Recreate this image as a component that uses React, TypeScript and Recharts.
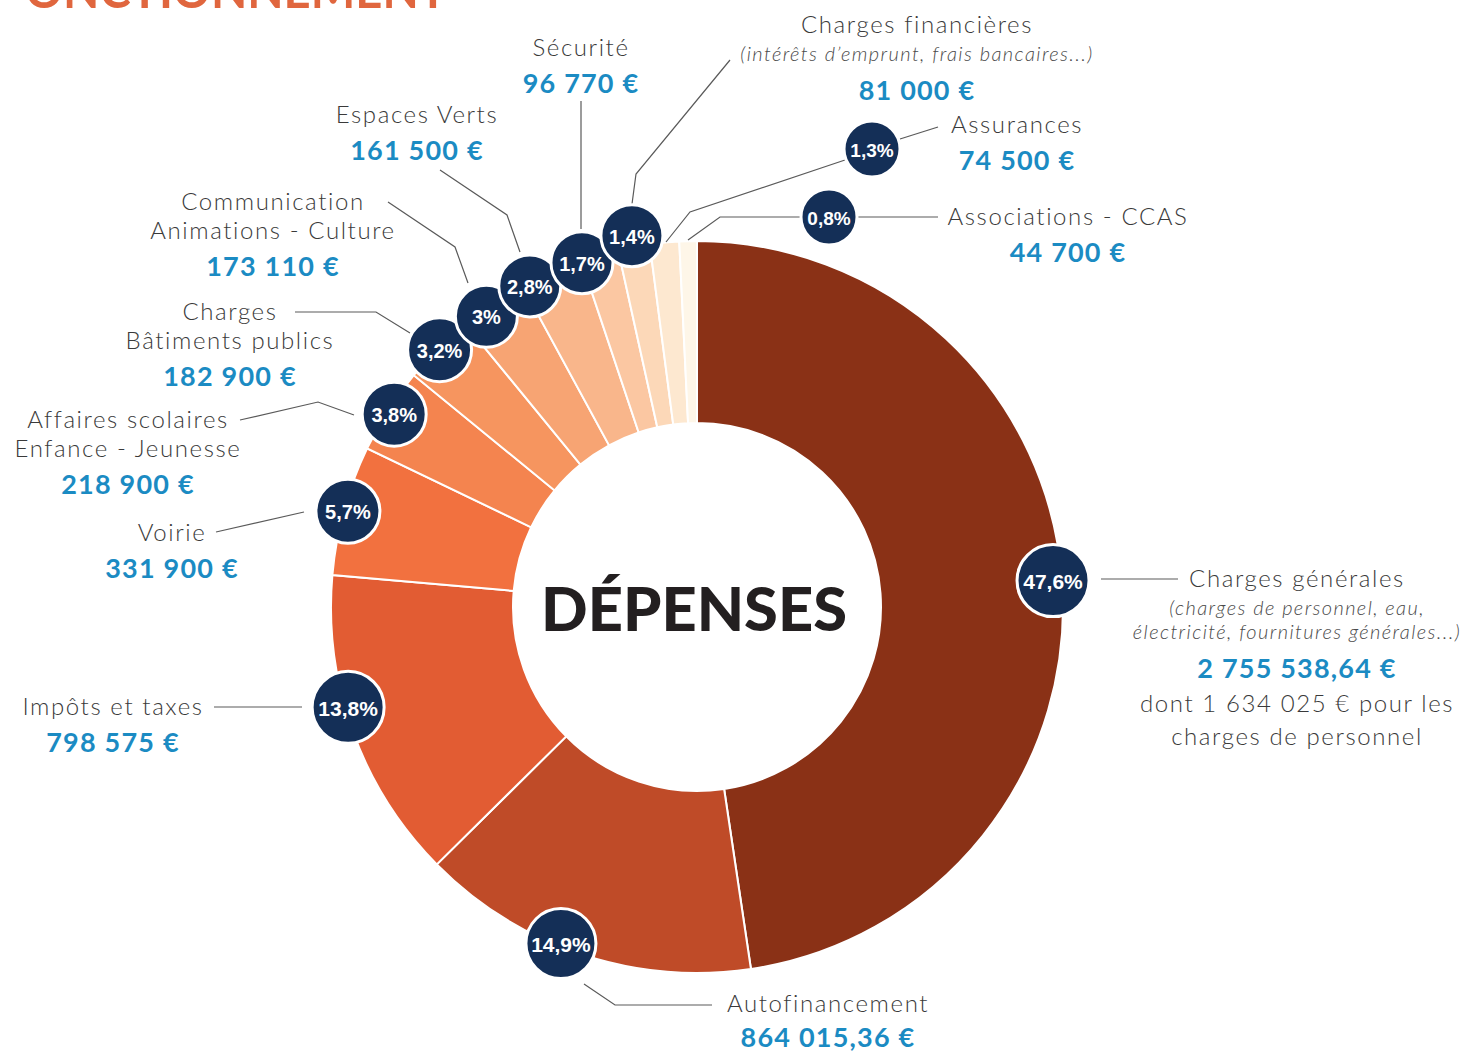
import React from 'react';
import { PieChart, Pie, Cell } from 'recharts';

// Budget - dépenses de fonctionnement
const categories = [
	'Charges générales',
	'Autofinancement',
	'Impôts et taxes',
	'Voirie',
	'Affaires scolaires\nEnfance - Jeunesse',
	'Charges\nBâtiments publics',
	'Communication\nAnimations - Culture',
	'Espaces Verts',
	'Sécurité',
	'Charges financières',
	'Assurances',
	'Associations - CCAS',
];
const amounts = [
	2755538.64, 864015.36, 798575, 331900, 218900, 182900, 173110, 161500, 96770, 81000, 74500, 44700,
];
const notes = [
	'(charges de personnel, eau,\nélectricité, fournitures générales...)',
	'', '', '', '', '', '', '', '',
	'(intérêts d’emprunt, frais bancaires...)',
	'', '',
];
const extras = ['dont 1 634 025 € pour les\ncharges de personnel', '', '', '', '', '', '', '', '', '', '', ''];
const sliceColors = [
	'#8a3116', '#bf4b28', '#e25c33', '#f2713f', '#f4844f', '#f6955f',
	'#f7a473', '#f9b68b', '#fbc7a2', '#fcd8b8', '#fde8d0', '#fef6e8',
];

const data = categories.map((name, i) => ({ name, value: amounts[i] }));

// callout layout: badge angle tweak / radius, leader lines, text block anchor
const callouts: any[] = [
	{ dA: 0, r: 357, br: 36, fs: 21, lines: [[[1101, 579], [1178, 579]]], x: 1297, y: 577 },
	{ dA: -3.6, r: 363, br: 35, fs: 21, lines: [[[584, 984], [615, 1005], [712, 1005]]], x: 828, y: 1002 },
	{ dA: -3.8, r: 363, br: 36, fs: 21, lines: [[[214, 707], [302, 707]]], x: 113, y: 705 },
	{ dA: 0, r: 362, br: 32, fs: 20, lines: [[[304, 512], [216, 532]]], x: 172, y: 531 },
	{ dA: 0, r: 359, br: 32, fs: 20, lines: [[[354, 415], [318, 402], [240, 420]]], x: 128, y: 418 },
	{ dA: 0, r: 364, br: 32, fs: 20, lines: [[[410, 333], [376, 312], [295, 312]]], x: 230, y: 310 },
	{ dA: 2, r: 359, br: 31, fs: 20, lines: [[[468, 283], [455, 247], [388, 202]]], x: 273, y: 200 },
	{ dA: 4, r: 362, br: 31, fs: 20, lines: [[[520, 252], [507, 215], [440, 170]]], x: 417, y: 113 },
	{ dA: 3, r: 363, br: 31, fs: 20, lines: [[[581, 229], [581, 101]]], x: 581, y: 46 },
	{ dA: 0, r: 377, br: 31, fs: 20, lines: [[[632, 204], [636, 174], [730, 60]]], x: 917, y: 23 },
	{ at: [872, 149], br: 28, fs: 19, lines: [[[666, 242], [690, 212], [845, 160]], [[900, 139], [938, 127]]], x: 1017, y: 123 },
	{ at: [829, 217], br: 28, fs: 19, lines: [[[688, 240], [720, 217], [802, 217]], [[858, 217], [938, 217]]], x: 1068, y: 215 },
];

const RAD = Math.PI / 180;
const fmtEuro = (v: number) => {
	const [int, dec] = v.toFixed(2).split('.');
	const grouped = int.replace(/\B(?=(\d{3})+(?!\d))/g, ' ');
	return (dec === '00' ? grouped : grouped + ',' + dec) + ' €';
};
const fmtPct = (p: number) => (p * 100).toFixed(1).replace(/\.0$/, '').replace('.', ',') + '%';

const nameFont = { fontFamily: 'Lato', fontWeight: 300, fontSize: 24, letterSpacing: 1.6, fill: '#3a3a3a' };
const noteFont = { fontFamily: 'Lato', fontWeight: 300, fontStyle: 'italic', fontSize: 20, letterSpacing: 1.4, fill: '#4a4a4a' };
const valueFont = { fontFamily: 'Lato', fontWeight: 700, fontSize: 27, letterSpacing: 1.2, fill: '#1b8bc3' };

function renderCallout(props: any) {
	const { cx, cy, midAngle, index, percent } = props;
	const c = callouts[index];
	let bx: number, by: number;
	if (c.at) {
		[bx, by] = c.at;
	} else {
		const a = (midAngle + c.dA) * RAD;
		bx = cx + c.r * Math.cos(a);
		by = cy - c.r * Math.sin(a);
	}

	const rows: { t: string; y: number; s: any }[] = [];
	let y = c.y;
	categories[index].split('\n').forEach((t, i) => {
		if (i > 0) y += 29;
		rows.push({ t, y, s: nameFont });
	});
	if (notes[index]) {
		notes[index].split('\n').forEach((t, i) => {
			y += i === 0 ? 30 : 24;
			rows.push({ t, y, s: noteFont });
		});
	}
	y += 36;
	rows.push({ t: fmtEuro(amounts[index]), y, s: valueFont });
	if (extras[index]) {
		extras[index].split('\n').forEach((t, i) => {
			y += i === 0 ? 35 : 33;
			rows.push({ t, y, s: nameFont });
		});
	}

	return (
		<g key={'callout-' + index}>
			{c.lines.map((pts: number[][], k: number) => (
				<polyline key={k} points={pts.map((p) => p.join(',')).join(' ')} fill='none' stroke='#5a5a5a' strokeWidth={1.2} />
			))}
			<circle cx={bx} cy={by} r={c.br} fill='#142f57' stroke='#fff' strokeWidth={3} />
			<text
				x={bx}
				y={by + 1}
				textAnchor='middle'
				dominantBaseline='central'
				fill='#fff'
				style={{ fontFamily: 'Liberation Sans', fontWeight: 700, fontSize: c.fs }}
			>
				{fmtPct(percent)}
			</text>
			{rows.map((r, k) => (
				<text key={'t' + k} x={c.x} y={Math.min(r.y, 1036)} textAnchor='middle' dominantBaseline='central' style={r.s}>
					{r.t}
				</text>
			))}
		</g>
	);
}

export default function App() {
	return (
		<div style={{ position: 'absolute', left: 0, top: 0, width: 1460, height: 1051, background: '#fff', overflow: 'hidden' }}>
			<PieChart width={1460} height={1051} margin={{ top: 0, right: 0, bottom: 0, left: 0 }}>
				<Pie
					data={data}
					dataKey='value'
					nameKey='name'
					cx={697}
					cy={607}
					innerRadius={184}
					outerRadius={366}
					startAngle={90}
					endAngle={-270}
					stroke='#fff'
					strokeWidth={2}
					label={renderCallout}
					labelLine={false}
					isAnimationActive={false}
				>
					{data.map((d, i) => (
						<Cell key={d.name} fill={sliceColors[i]} />
					))}
				</Pie>
			</PieChart>
			<svg width={1460} height={1051} style={{ position: 'absolute', left: 0, top: 0, pointerEvents: 'none' }}>
				<text x={25} y={8} textLength={422} lengthAdjust='spacingAndGlyphs' style={{ fontFamily: 'Lato', fontWeight: 700, fontSize: 50, fill: '#e0663e' }}>
					ONCTIONNEMENT
				</text>
				<text
					x={694}
					y={608}
					textAnchor='middle'
					dominantBaseline='central'
					textLength={306}
					lengthAdjust='spacingAndGlyphs'
					style={{ fontFamily: 'Lato', fontWeight: 900, fontSize: 60, fill: '#231f20' }}
				>
					DÉPENSES
				</text>
			</svg>
		</div>
	);
}
